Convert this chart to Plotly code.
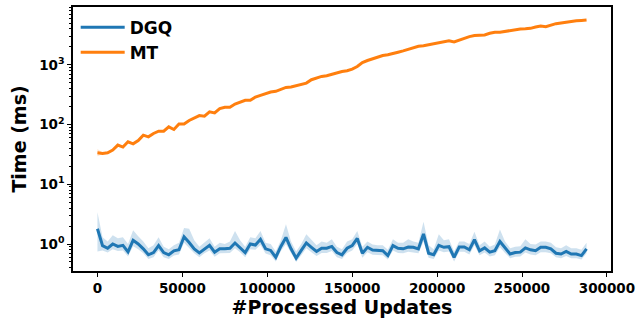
import plotly.graph_objects as go

# x positions: processed updates (every 3000)
updates = list(range(0, 288001, 3000))

dgq_mean = [1.80, 0.94, 0.85, 1.00, 0.91, 0.95, 0.74, 1.15, 1.00, 0.83,
            0.66, 0.72, 0.94, 0.72, 0.66, 0.77, 0.80, 1.32, 1.06, 0.83,
            0.71, 0.83, 0.95, 0.73, 0.83, 0.83, 0.85, 1.04, 0.88, 0.72,
            1.00, 0.96, 1.20, 0.83, 0.78, 0.60, 0.91, 1.29, 0.83, 0.58,
            0.78, 1.04, 0.88, 0.75, 0.85, 0.85, 0.91, 0.72, 0.66, 0.85,
            0.94, 1.24, 0.70, 0.88, 0.79, 0.77, 0.77, 0.64, 0.94, 0.85,
            0.83, 0.89, 0.88, 0.83, 1.47, 0.70, 0.66, 0.95, 0.88, 0.90,
            0.60, 0.89, 0.89, 0.80, 1.18, 0.77, 0.86, 0.73, 0.77, 1.10,
            0.85, 0.68, 0.72, 0.73, 0.86, 0.80, 0.77, 0.88, 0.88, 0.83,
            0.70, 0.68, 0.75, 0.68, 0.68, 0.64, 0.83]

dgq_upper = [3.40, 1.30, 1.10, 1.40, 1.25, 1.30, 1.00, 1.70, 1.35, 1.10,
             0.85, 0.95, 1.30, 0.90, 0.82, 0.95, 1.05, 1.85, 1.80, 1.15,
             0.90, 1.05, 1.25, 0.90, 1.05, 1.00, 1.10, 1.65, 1.15, 0.90,
             1.30, 1.25, 1.65, 1.05, 1.00, 0.75, 1.15, 2.15, 1.10, 0.75,
             1.00, 1.45, 1.15, 0.95, 1.10, 1.05, 1.20, 0.90, 0.82, 1.10,
             1.20, 1.65, 0.90, 1.10, 0.98, 0.95, 0.95, 0.80, 1.20, 1.05,
             1.05, 1.20, 1.10, 1.05, 2.35, 0.95, 0.82, 1.45, 1.15, 1.20,
             0.75, 1.10, 1.10, 1.00, 1.60, 0.95, 1.10, 0.90, 0.98, 1.75,
             1.10, 0.85, 0.90, 0.92, 1.20, 1.00, 0.98, 1.10, 1.10, 1.05,
             0.88, 0.85, 0.95, 0.85, 0.85, 0.80, 1.05]

dgq_lower = [0.75, 0.78, 0.72, 0.82, 0.76, 0.78, 0.62, 0.92, 0.82, 0.70,
             0.56, 0.60, 0.78, 0.60, 0.56, 0.64, 0.67, 1.05, 0.86, 0.70,
             0.60, 0.70, 0.78, 0.61, 0.70, 0.70, 0.71, 0.85, 0.73, 0.60,
             0.82, 0.80, 0.96, 0.69, 0.65, 0.51, 0.76, 1.00, 0.69, 0.50,
             0.65, 0.85, 0.73, 0.63, 0.71, 0.71, 0.76, 0.60, 0.56, 0.71,
             0.78, 1.00, 0.59, 0.73, 0.66, 0.65, 0.65, 0.55, 0.78, 0.71,
             0.70, 0.74, 0.73, 0.70, 1.10, 0.59, 0.56, 0.78, 0.73, 0.75,
             0.51, 0.74, 0.74, 0.67, 0.95, 0.65, 0.72, 0.62, 0.65, 0.88,
             0.71, 0.58, 0.61, 0.62, 0.72, 0.67, 0.65, 0.73, 0.73, 0.70,
             0.60, 0.58, 0.63, 0.58, 0.58, 0.55, 0.70]

mt_mean = [33.6, 32.8, 33.6, 37.3, 45.2, 41.9, 51.3, 47.5, 54.0, 66.4,
           62.1, 70.8, 77.3, 77.3, 91.2, 82.6, 102, 102, 117, 129,
           141, 138, 163, 156, 185, 194, 194, 220, 235, 254,
           254, 288, 308, 329, 349, 359, 383, 417, 424, 447,
           464, 493, 562, 599, 638, 656, 697, 744, 773, 794,
           845, 937, 1092, 1180, 1259, 1374, 1429, 1469, 1525, 1622,
           1710, 1820, 1965, 2043, 2075, 2155, 2265, 2355, 2383, 2512,
           2416, 2610, 2774, 2963, 3078, 3078, 3162, 3365, 3495, 3495,
           3631, 3775, 3874, 3981, 4000, 4074, 4295, 4467, 4345, 4645,
           4875, 5012, 5210, 5411, 5470, 5535, 5620]

# small visible spread of MT at the very start only
mt_band_x = [0, 3000, 6000]
mt_band_upper = [39.0, 34.0, 34.2]
mt_band_lower = [29.5, 31.8, 33.0]

y_tickvals = [1, 10, 100, 1000]
y_ticktext = ["10<sup>0</sup>", "10<sup>1</sup>", "10<sup>2</sup>", "10<sup>3</sup>"]
x_tickvals = [0, 50000, 100000, 150000, 200000, 250000, 300000]
x_ticktext = ["0", "50000", "100000", "150000", "200000", "250000", "300000"]

BLUE = "#1f77b4"
ORANGE = "#ff7f0e"
FONT = "DejaVu Sans"

fig = go.Figure()

# DGQ band
fig.add_trace(go.Scatter(x=updates, y=dgq_lower, mode="lines", line=dict(width=0, color=BLUE),
                         showlegend=False, hoverinfo="skip"))
fig.add_trace(go.Scatter(x=updates, y=dgq_upper, mode="lines", line=dict(width=0, color=BLUE),
                         fill="tonexty", fillcolor="rgba(31,119,180,0.22)",
                         showlegend=False, hoverinfo="skip"))
# MT band
fig.add_trace(go.Scatter(x=mt_band_x, y=mt_band_lower, mode="lines", line=dict(width=0, color=ORANGE),
                         showlegend=False, hoverinfo="skip"))
fig.add_trace(go.Scatter(x=mt_band_x, y=mt_band_upper, mode="lines", line=dict(width=0, color=ORANGE),
                         fill="tonexty", fillcolor="rgba(255,127,14,0.2)",
                         showlegend=False, hoverinfo="skip"))

fig.add_trace(go.Scatter(x=updates, y=dgq_mean, mode="lines", name="DGQ",
                         line=dict(color=BLUE, width=3)))
fig.add_trace(go.Scatter(x=updates, y=mt_mean, mode="lines", name="MT",
                         line=dict(color=ORANGE, width=3)))

minor_vals = [m * 10 ** d for d in range(-1, 4) for m in range(2, 10)]

fig.update_layout(
    width=640, height=322,
    margin=dict(l=73, r=27, t=5, b=51),
    paper_bgcolor="white", plot_bgcolor="white",
    font=dict(family=FONT, color="black", weight="bold"),
    legend=dict(x=0.005, y=0.99, xanchor="left", yanchor="top", traceorder="normal",
                bgcolor="rgba(0,0,0,0)", font=dict(size=17, family=FONT, weight="bold"),
                itemwidth=44),
    xaxis=dict(
        range=[-14400, 302400],
        tickvals=x_tickvals, ticktext=x_ticktext,
        tickfont=dict(size=13.5, family=FONT, weight="bold"),
        ticks="outside", ticklen=4, tickwidth=1, tickcolor="black",
        showline=True, linecolor="black", linewidth=1.5, mirror=True,
        showgrid=False, zeroline=False,
        title=dict(text="#Processed Updates", font=dict(size=19, family=FONT, weight="bold"), standoff=4),
    ),
    yaxis=dict(
        type="log",
        range=[-0.452, 3.967],
        tickvals=y_tickvals, ticktext=y_ticktext,
        tickfont=dict(size=13.5, family=FONT, weight="bold"),
        ticks="outside", ticklen=4, tickwidth=1, tickcolor="black",
        minor=dict(tickvals=minor_vals, ticks="outside", ticklen=2, tickwidth=0.8, tickcolor="black", showgrid=False),
        showline=True, linecolor="black", linewidth=1.5, mirror=True,
        showgrid=False, zeroline=False,
        title=dict(text="Time (ms)", font=dict(size=19, family=FONT, weight="bold"), standoff=8),
    ),
)

fig.write_html("out.html", config={"displayModeBar": False},
               post_script="document.body.style.margin='0';document.body.style.padding='0';")
